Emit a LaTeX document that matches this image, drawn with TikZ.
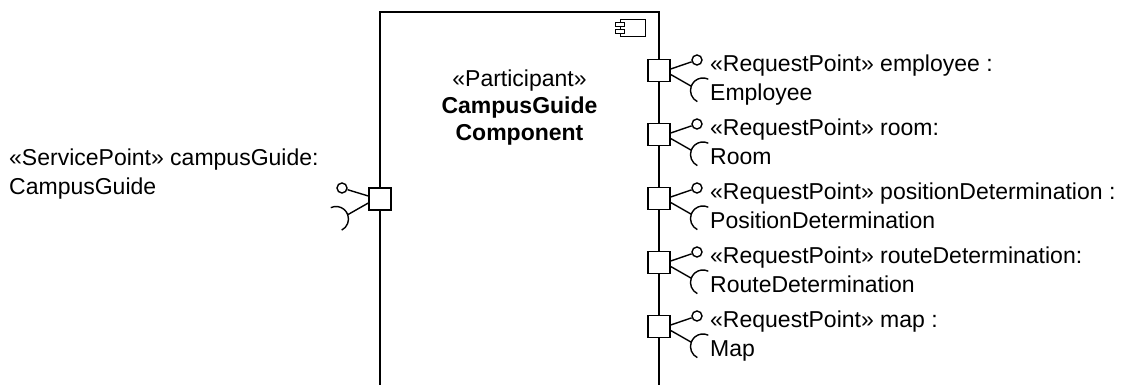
\documentclass[tikz,border=0pt]{standalone}
\usepackage{fontspec}
\setmainfont{Liberation Sans}
\begin{document}
\begin{tikzpicture}[x=1pt, y=1pt,
    port/.style={rectangle, draw, line width=1.4pt, fill=white, minimum size=22pt, inner sep=0pt},
    ball/.style={circle, draw, line width=1.4pt, fill=white, minimum size=10pt, inner sep=0pt},
    wire/.style={line width=1.4pt},
    lbl/.style={anchor=base west, align=left, inner sep=0pt, font=\fontsize{23}{29}\selectfont},
    tab/.style={rectangle, draw, line width=1pt, fill=white, minimum width=9pt, minimum height=4pt, inner sep=0pt}
]
    \useasboundingbox (0,0) rectangle (1136,-385);

    % Component frame, open at the bottom
    \draw[line width=1.6pt] (380,-387) -- (380,-12) -- (659,-12) -- (659,-387);

    % Component icon
    \node[draw, line width=1pt, minimum width=25pt, minimum height=17.5pt, inner sep=0pt] (icon) at (633.2,-28) {};
    \node[tab] (tabA) at ([yshift=3.5pt]icon.west) {};
    \node[tab] (tabB) at ([yshift=-3.5pt]icon.west) {};

    % Title (base = last line)
    \node[align=center, anchor=base, inner sep=0pt, font=\fontsize{23}{27}\selectfont] (title) at (519.5,-141)
        {«Participant»\\\textbf{CampusGuide}\\\textbf{Component}};

    % Service port
    \node[port] (pGuide) at (380,-199) {};
    \node[ball] (bGuide) at ([shift={(-38pt,11pt)}]pGuide.center) {};
    \coordinate (sGuide) at ([shift={(-32.25pt,-15.7pt)}]pGuide.center);
    \draw[wire] ([yshift=3pt]pGuide.west) -- (bGuide);
    \draw[wire] ([yshift=-4pt]pGuide.west) -- (sGuide) arc[start angle=20, end angle=-63, radius=12.5pt];
    \draw[wire] (sGuide) arc[start angle=20, end angle=115, radius=12.5pt];
    \node[lbl] (lGuide) at (9,-195) {«ServicePoint» campusGuide:\\CampusGuide};

    % Request ports
    \node[port] (pEmp) at (659,-70.5) {};
    \node[port] (pRoom) at (659,-134.5) {};
    \node[port] (pPos) at (659,-198.5) {};
    \node[port] (pRoute) at (659,-262.5) {};
    \node[port] (pMap) at (659,-326.5) {};

    \foreach \n in {Emp,Room,Pos,Route,Map} {
        \node[ball] (b\n) at ([shift={(38pt,10.5pt)}]p\n.center) {};
        \coordinate (s\n) at ([shift={(32.25pt,-15.7pt)}]p\n.center);
        \draw[wire] ([yshift=1.5pt]p\n.east) -- (b\n);
        \draw[wire] ([yshift=-4pt]p\n.east) -- (s\n) arc[start angle=160, end angle=243, radius=12.5pt];
        \draw[wire] (s\n) arc[start angle=160, end angle=65, radius=12.5pt];
    }

    % Request labels (base = second line)
    \node[lbl] (lEmp) at (710,-100.5) {«RequestPoint» employee :\\Employee};
    \node[lbl] (lRoom) at (710,-164.5) {«RequestPoint» room:\\Room};
    \node[lbl] (lPos) at (710,-228.5) {«RequestPoint» positionDetermination :\\PositionDetermination};
    \node[lbl] (lRoute) at (710,-292.5) {«RequestPoint» routeDetermination:\\RouteDetermination};
    \node[lbl] (lMap) at (710,-356.5) {«RequestPoint» map :\\Map};
\end{tikzpicture}
\end{document}
